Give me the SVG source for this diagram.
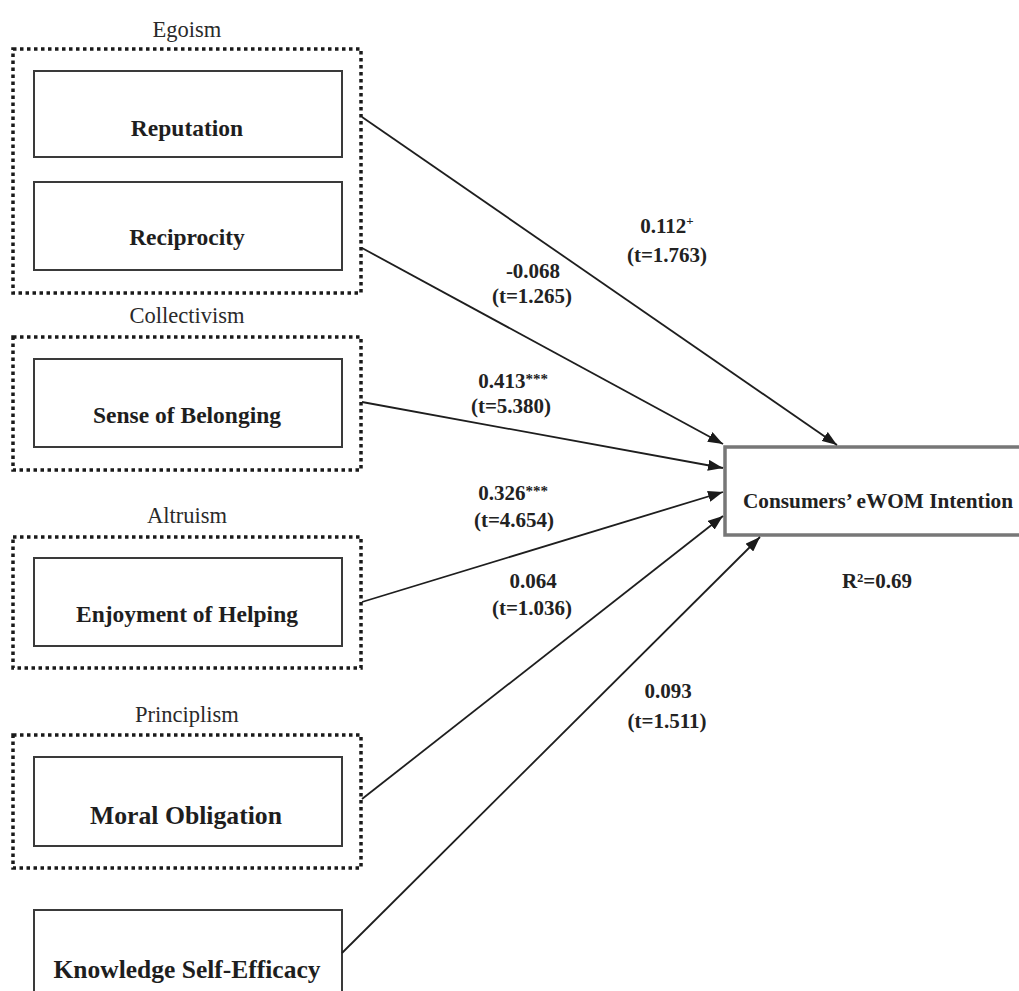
<svg xmlns="http://www.w3.org/2000/svg" width="1019" height="991" viewBox="0 0 1019 991">
  <style>
    .group { fill: none; stroke: #1a1a1a; stroke-width: 3.5; stroke-dasharray: 3.5 3.5; }
    .node { fill: #ffffff; stroke: #3a3a3a; stroke-width: 2; }
    .target { fill: #ffffff; stroke: #777777; stroke-width: 3.5; }
    .glabel { font-family: "Liberation Serif", "Times New Roman", serif; font-size: 22.5px; fill: #2a2a2a; text-anchor: middle; }
    .nlabel { font-family: "Liberation Serif", "Times New Roman", serif; font-size: 23.5px; font-weight: bold; fill: #1e1e1e; text-anchor: middle; }
    .elabel { font-family: "Liberation Serif", "Times New Roman", serif; font-size: 21px; font-weight: bold; fill: #222222; text-anchor: middle; }
    .sup { font-size: 15px; }
    .edge { stroke: #1e1e1e; stroke-width: 1.8; fill: none; marker-end: url(#arrow); }
  </style>
  <defs>
    <marker id="arrow" markerUnits="userSpaceOnUse" markerWidth="15" markerHeight="11" refX="15" refY="5.5" orient="auto">
      <path d="M0,0 L15,5.5 L0,11 z" fill="#1a1a1a"/>
    </marker>
  </defs>
  <rect width="1019" height="991" fill="#ffffff"/>

  <!-- construct groups (dotted frames with their captions) -->
  <g id="egoism">
    <text class="glabel" x="187" y="37">Egoism</text>
    <rect class="group" x="13" y="49" width="348" height="244"/>
  </g>
  <g id="collectivism">
    <text class="glabel" x="187" y="323">Collectivism</text>
    <rect class="group" x="13" y="337" width="348" height="133"/>
  </g>
  <g id="altruism">
    <text class="glabel" x="187" y="523">Altruism</text>
    <rect class="group" x="13" y="537" width="348" height="131"/>
  </g>
  <g id="principlism">
    <text class="glabel" x="187" y="722">Principlism</text>
    <rect class="group" x="13" y="735" width="348" height="133"/>
  </g>

  <!-- antecedent nodes -->
  <g id="reputation">
    <rect class="node" x="34" y="71" width="308" height="86"/>
    <text class="nlabel" x="187" y="136">Reputation</text>
  </g>
  <g id="reciprocity">
    <rect class="node" x="34" y="182" width="308" height="88"/>
    <text class="nlabel" x="187" y="245">Reciprocity</text>
  </g>
  <g id="sense-of-belonging">
    <rect class="node" x="34" y="359" width="308" height="88"/>
    <text class="nlabel" x="187" y="423">Sense of Belonging</text>
  </g>
  <g id="enjoyment-of-helping">
    <rect class="node" x="34" y="558" width="308" height="88"/>
    <text class="nlabel" x="187" y="622">Enjoyment of Helping</text>
  </g>
  <g id="moral-obligation">
    <rect class="node" x="34" y="757" width="308" height="89"/>
    <text class="nlabel" x="186" y="824" style="font-size:25.5px" textLength="192" lengthAdjust="spacingAndGlyphs">Moral Obligation</text>
  </g>
  <g id="knowledge-self-efficacy">
    <rect class="node" x="34" y="910" width="308" height="100"/>
    <text class="nlabel" x="187" y="978" style="font-size:25px" textLength="267" lengthAdjust="spacingAndGlyphs">Knowledge Self-Efficacy</text>
  </g>

  <!-- outcome node -->
  <g id="ewom-intention">
    <rect class="target" x="725" y="447" width="320" height="88"/>
    <text class="elabel" x="878" y="508" textLength="270" lengthAdjust="spacingAndGlyphs">Consumers’ eWOM Intention</text>
    <text class="elabel" x="877" y="588">R²=0.69</text>
  </g>

  <!-- structural paths -->
  <g id="connectors">
    <line class="edge" x1="362" y1="117" x2="837" y2="445"/>
    <line class="edge" x1="362" y1="248" x2="723" y2="444"/>
    <line class="edge" x1="362" y1="402" x2="723" y2="468"/>
    <line class="edge" x1="362" y1="602" x2="723" y2="492"/>
    <line class="edge" x1="362" y1="799" x2="723" y2="516"/>
    <line class="edge" x1="342" y1="953" x2="760" y2="537"/>

    <text class="elabel" x="667" y="233">0.112<tspan font-size="13" dy="-8">+</tspan></text>
    <text class="elabel" x="667" y="262">(t=1.763)</text>

    <text class="elabel" x="533" y="278">-0.068</text>
    <text class="elabel" x="532" y="303">(t=1.265)</text>

    <text class="elabel" x="513" y="388">0.413<tspan class="sup" dy="-4">***</tspan></text>
    <text class="elabel" x="511" y="413">(t=5.380)</text>

    <text class="elabel" x="513" y="500">0.326<tspan class="sup" dy="-4">***</tspan></text>
    <text class="elabel" x="514" y="527">(t=4.654)</text>

    <text class="elabel" x="533" y="588">0.064</text>
    <text class="elabel" x="532" y="615">(t=1.036)</text>

    <text class="elabel" x="668" y="698">0.093</text>
    <text class="elabel" x="667" y="728">(t=1.511)</text>
  </g>
</svg>
